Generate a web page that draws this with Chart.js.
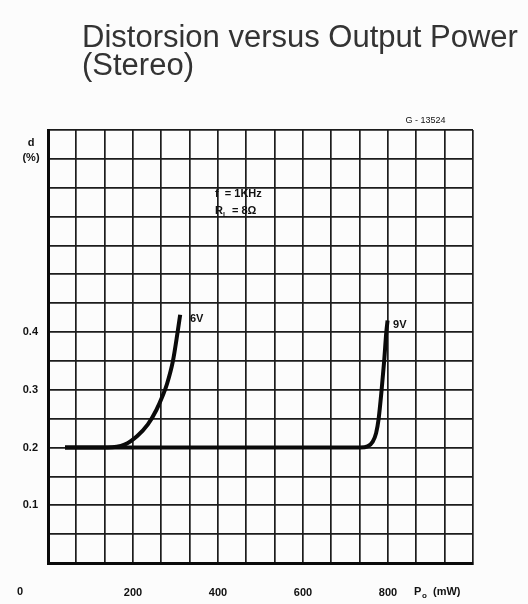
<!DOCTYPE html>
<html>
<head>
<meta charset="utf-8">
<script src="https://cdn.jsdelivr.net/npm/chart.js@4/dist/chart.umd.min.js"></script>
<style>
  html, body { margin: 0; padding: 0; background: #fcfcfc; }
  #wrap { width: 528px; height: 604px; position: relative; }
</style>
</head>
<body>
<div id="wrap"><canvas id="distChart" width="528" height="604"></canvas></div>
<script>
// values (Po in mW, d in %)
var powerSixV = [40, 140, 180, 210, 235, 255, 270, 280, 294, 305, 311];
var distSixV  = [0.2, 0.2, 0.205, 0.22, 0.24, 0.265, 0.29, 0.31, 0.35, 0.40, 0.43];

var powerNineV = [40, 735, 752, 764, 772, 778, 785, 791, 796, 799];
var distNineV  = [0.2, 0.2, 0.202, 0.21, 0.225, 0.25, 0.30, 0.35, 0.40, 0.42];

var xTickLabels = ['200', '400', '600', '800'];
var yTickLabels = ['0.1', '0.2', '0.3', '0.4'];

function toPoints(xs, ys) {
    return xs.map(function (x, i) { return { x: x, y: ys[i] }; });
}

var gridColor = '#1c1c1c';
var labelFont = 'bold 11px "Liberation Sans", Arial, sans-serif';

var textPlugin = {
    id: 'sheetText',
    afterDraw: function (chart) {
        var ctx = chart.ctx;
        var xs = chart.scales.x, ys = chart.scales.y;
        var area = chart.chartArea;
        ctx.save();

        // title
        ctx.fillStyle = '#333';
        ctx.font = '31px "Liberation Sans", Arial, sans-serif';
        ctx.textAlign = 'left';
        ctx.textBaseline = 'alphabetic';
        ctx.fillText('Distorsion versus Output Power', 82, 47);
        ctx.fillText('(Stereo)', 82, 75);

        ctx.fillStyle = '#111';
        ctx.font = labelFont;
        ctx.textBaseline = 'middle';

        // axis names
        ctx.textAlign = 'center';
        ctx.fillText('d', 31, 143);
        ctx.fillText('(%)', 31, 158);
        ctx.fillText('0', 20, 592);
        ctx.textAlign = 'left';
        ctx.fillText('P', 414, 592);
        ctx.font = 'bold 8px "Liberation Sans", Arial, sans-serif';
        ctx.fillText('o', 422, 596);
        ctx.font = labelFont;
        ctx.fillText('(mW)', 433, 592);

        // curve labels
        ctx.fillText('6V', xs.getPixelForValue(334), ys.getPixelForValue(0.422));
        ctx.fillText('9V', xs.getPixelForValue(812), ys.getPixelForValue(0.413));

        // conditions box
        ctx.fillText('f  = 1KHz', xs.getPixelForValue(393), ys.getPixelForValue(0.639));
        ctx.fillText('R', xs.getPixelForValue(393), ys.getPixelForValue(0.609));
        ctx.font = 'bold 7px "Liberation Sans", Arial, sans-serif';
        ctx.fillText('L', xs.getPixelForValue(393) + 8, ys.getPixelForValue(0.609) + 4);
        ctx.font = labelFont;
        ctx.fillText('= 8\u03A9', xs.getPixelForValue(393) + 17, ys.getPixelForValue(0.609));

        // drawing number
        ctx.font = '9px "Liberation Sans", Arial, sans-serif';
        ctx.fillText('G - 13524', xs.getPixelForValue(841), area.top - 9);
        ctx.restore();
    }
};

var ctx = document.getElementById('distChart').getContext('2d');
var distChart = new Chart(ctx, {
    type: 'line',
    data: {
        datasets: [{
            label: '6V',
            data: toPoints(powerSixV, distSixV),
            borderColor: '#0a0a0a',
            borderWidth: 4,
            pointRadius: 0,
            cubicInterpolationMode: 'monotone',
            fill: false
        },
        {
            label: '9V',
            data: toPoints(powerNineV, distNineV),
            borderColor: '#0a0a0a',
            borderWidth: 4,
            pointRadius: 0,
            cubicInterpolationMode: 'monotone',
            fill: false
        }]
    },
    options: {
        responsive: false,
        animation: false,
        layout: {
            padding: { left: 0, top: 130, right: 55, bottom: 0 }
        },
        plugins: {
            legend: { display: false },
            title: { display: false },
            tooltip: { enabled: false }
        },
        scales: {
            x: {
                type: 'linear',
                min: 0,
                max: 1000,
                afterFit: function (scale) { scale.height = 41; },
                afterBuildTicks: function (scale) {
                    var t = [];
                    for (var i = 0; i <= 15; i++) t.push({ value: i * 1000 / 15 });
                    scale.ticks = t;
                },
                ticks: {
                    autoSkip: false,
                    maxRotation: 0,
                    padding: 23,
                    color: '#111',
                    font: { family: '"Liberation Sans", Arial, sans-serif', size: 11, weight: 'bold' },
                    callback: function (value, index) {
                        if (index > 0 && index % 3 === 0 && index <= 12) return xTickLabels[index / 3 - 1];
                        return '';
                    }
                },
                grid: { color: gridColor, lineWidth: 1.7, drawTicks: false },
                border: { color: '#0a0a0a', width: 3 }
            },
            y: {
                min: 0,
                max: 0.75,
                afterFit: function (scale) { scale.width = 48; },
                afterBuildTicks: function (scale) {
                    var t = [];
                    for (var i = 0; i <= 15; i++) t.push({ value: i * 0.05 });
                    scale.ticks = t;
                },
                ticks: {
                    autoSkip: false,
                    padding: 10,
                    color: '#111',
                    font: { family: '"Liberation Sans", Arial, sans-serif', size: 11, weight: 'bold' },
                    callback: function (value, index) {
                        if (index > 0 && index % 2 === 0 && index <= 8) return yTickLabels[index / 2 - 1];
                        return '';
                    }
                },
                grid: { color: gridColor, lineWidth: 1.7, drawTicks: false },
                border: { color: '#0a0a0a', width: 3 }
            }
        }
    },
    plugins: [textPlugin]
});
</script>
</body>
</html>
